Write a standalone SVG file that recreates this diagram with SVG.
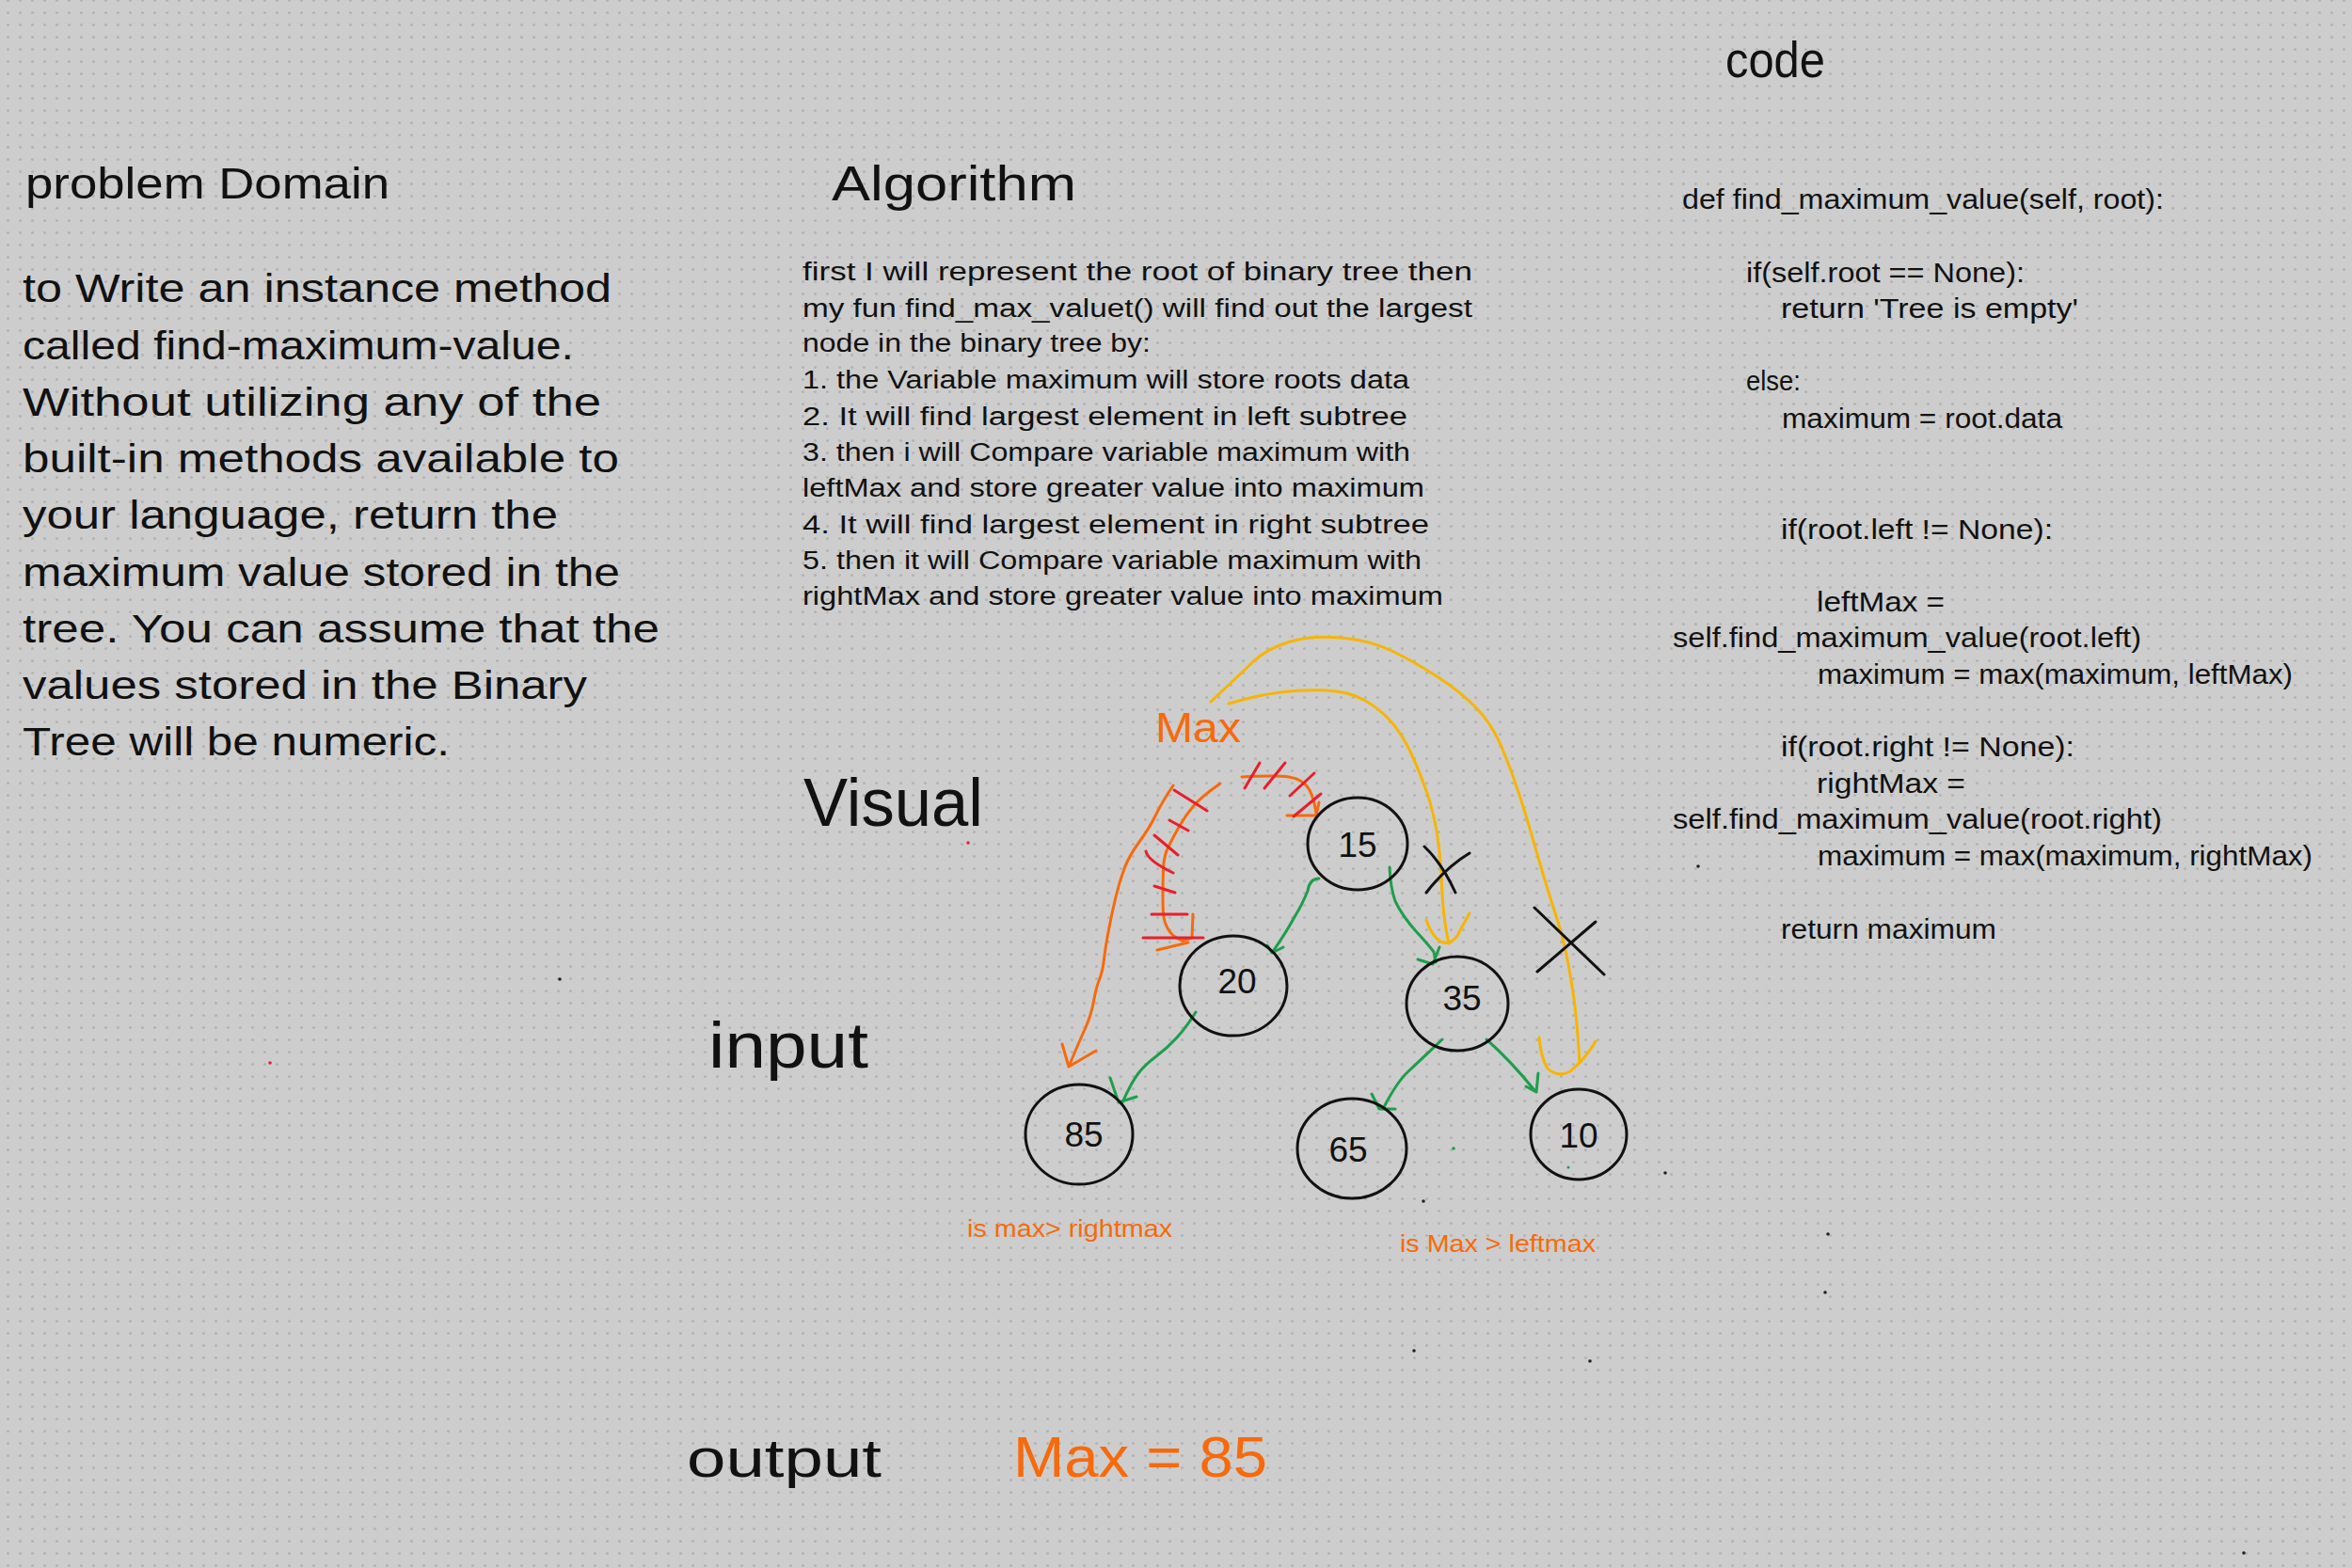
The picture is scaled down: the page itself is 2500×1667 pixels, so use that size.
<svg xmlns="http://www.w3.org/2000/svg" width="2500" height="1667" viewBox="0 0 2500 1667">
<defs>
<pattern id="dots" x="2" y="-6" width="13" height="13" patternUnits="userSpaceOnUse">
<circle cx="6.5" cy="6.5" r="1.6" fill="#b4b4b4"/>
</pattern>
<style>
text{font-family:"Liberation Sans","DejaVu Sans",sans-serif;fill:#111;}
.h{font-size:46px;}
.pd{font-size:42px;}
.al{font-size:27px;}
.cd{font-size:29px;}
.or{fill:#f76a0c;}
.num{font-size:37px;text-anchor:middle;}
.node{fill:none;stroke:#111;stroke-width:3;}
.g{fill:none;stroke:#1e9e4b;stroke-width:3;stroke-linecap:round;stroke-linejoin:round;}
.o{fill:none;stroke:#f76a0c;stroke-width:3;stroke-linecap:round;stroke-linejoin:round;}
.r{fill:none;stroke:#e81f2d;stroke-width:3;stroke-linecap:round;}
.y{fill:none;stroke:#f7b500;stroke-width:3;stroke-linecap:round;stroke-linejoin:round;}
.x{fill:none;stroke:#111;stroke-width:3;stroke-linecap:round;}
</style>
</defs>
<rect width="2500" height="1667" fill="#cdcdcd"/>
<rect width="2500" height="1667" fill="url(#dots)"/>

<g id="problem-domain">
<text class="h" x="27" y="211" textLength="387" lengthAdjust="spacingAndGlyphs">problem Domain</text>
<text class="pd" x="24" y="321" textLength="626" lengthAdjust="spacingAndGlyphs">to Write an instance method</text>
<text class="pd" x="24" y="382" textLength="586" lengthAdjust="spacingAndGlyphs">called find-maximum-value.</text>
<text class="pd" x="24" y="442" textLength="615" lengthAdjust="spacingAndGlyphs">Without utilizing any of the</text>
<text class="pd" x="24" y="502" textLength="634" lengthAdjust="spacingAndGlyphs">built-in methods available to</text>
<text class="pd" x="24" y="562" textLength="569" lengthAdjust="spacingAndGlyphs">your language, return the</text>
<text class="pd" x="24" y="623" textLength="635" lengthAdjust="spacingAndGlyphs">maximum value stored in the</text>
<text class="pd" x="24" y="683" textLength="677" lengthAdjust="spacingAndGlyphs">tree. You can assume that the</text>
<text class="pd" x="24" y="743" textLength="600" lengthAdjust="spacingAndGlyphs">values stored in the Binary</text>
<text class="pd" x="24" y="803" textLength="454" lengthAdjust="spacingAndGlyphs">Tree will be numeric.</text>
</g>

<g id="algorithm">
<text x="884" y="213" font-size="52" textLength="260" lengthAdjust="spacingAndGlyphs">Algorithm</text>
<text class="al" x="853" y="298" textLength="712" lengthAdjust="spacingAndGlyphs">first I will represent the root of binary tree then</text>
<text class="al" x="853" y="337" textLength="712" lengthAdjust="spacingAndGlyphs">my fun find_max_valuet() will find out the largest</text>
<text class="al" x="853" y="374" textLength="370" lengthAdjust="spacingAndGlyphs">node in the binary tree by:</text>
<text class="al" x="853" y="413" textLength="645" lengthAdjust="spacingAndGlyphs">1. the Variable maximum will store roots data</text>
<text class="al" x="853" y="452" textLength="643" lengthAdjust="spacingAndGlyphs">2. It will find largest element in left subtree</text>
<text class="al" x="853" y="490" textLength="646" lengthAdjust="spacingAndGlyphs">3. then i will Compare variable maximum with</text>
<text class="al" x="853" y="528" textLength="661" lengthAdjust="spacingAndGlyphs">leftMax and store greater value into maximum</text>
<text class="al" x="853" y="567" textLength="666" lengthAdjust="spacingAndGlyphs">4. It will find largest element in right subtree</text>
<text class="al" x="853" y="605" textLength="658" lengthAdjust="spacingAndGlyphs">5. then it will Compare variable maximum with</text>
<text class="al" x="853" y="643" textLength="681" lengthAdjust="spacingAndGlyphs">rightMax and store greater value into maximum</text>
</g>

<g id="code">
<text x="1834" y="82" font-size="54" textLength="106" lengthAdjust="spacingAndGlyphs">code</text>
<text class="cd" x="1788" y="222" textLength="512" lengthAdjust="spacingAndGlyphs">def find_maximum_value(self, root):</text>
<text class="cd" x="1856" y="300" textLength="296" lengthAdjust="spacingAndGlyphs">if(self.root == None):</text>
<text class="cd" x="1893" y="338" textLength="316" lengthAdjust="spacingAndGlyphs">return 'Tree is empty'</text>
<text class="cd" x="1856" y="415" textLength="58" lengthAdjust="spacingAndGlyphs">else:</text>
<text class="cd" x="1894" y="455" textLength="298" lengthAdjust="spacingAndGlyphs">maximum = root.data</text>
<text class="cd" x="1893" y="573" textLength="289" lengthAdjust="spacingAndGlyphs">if(root.left != None):</text>
<text class="cd" x="1931" y="650" textLength="136" lengthAdjust="spacingAndGlyphs">leftMax =</text>
<text class="cd" x="1778" y="688" textLength="498" lengthAdjust="spacingAndGlyphs">self.find_maximum_value(root.left)</text>
<text class="cd" x="1932" y="727" textLength="505" lengthAdjust="spacingAndGlyphs">maximum = max(maximum, leftMax)</text>
<text class="cd" x="1893" y="804" textLength="312" lengthAdjust="spacingAndGlyphs">if(root.right != None):</text>
<text class="cd" x="1931" y="843" textLength="158" lengthAdjust="spacingAndGlyphs">rightMax =</text>
<text class="cd" x="1778" y="881" textLength="520" lengthAdjust="spacingAndGlyphs">self.find_maximum_value(root.right)</text>
<text class="cd" x="1932" y="920" textLength="526" lengthAdjust="spacingAndGlyphs">maximum = max(maximum, rightMax)</text>
<text class="cd" x="1893" y="998" textLength="229" lengthAdjust="spacingAndGlyphs">return maximum</text>
</g>

<g id="labels">
<text x="854" y="878" font-size="72" textLength="191" lengthAdjust="spacingAndGlyphs">Visual</text>
<text x="753" y="1135" font-size="68" textLength="170" lengthAdjust="spacingAndGlyphs">input</text>
<text x="730" y="1570" font-size="58" textLength="207" lengthAdjust="spacingAndGlyphs">output</text>
<text class="or" x="1077" y="1570" font-size="62" textLength="270" lengthAdjust="spacingAndGlyphs">Max = 85</text>
<text class="or" x="1228" y="789" font-size="45" textLength="91" lengthAdjust="spacingAndGlyphs">Max</text>
<text class="or" x="1028" y="1315" font-size="25" textLength="218" lengthAdjust="spacingAndGlyphs">is max&gt; rightmax</text>
<text class="or" x="1488" y="1331" font-size="25" textLength="208" lengthAdjust="spacingAndGlyphs">is Max &gt; leftmax</text>
</g>

<g id="connectors">
<!-- green tree edges -->
<path class="g" d="M1402,934 Q1392,934 1390,947 Q1384,962 1377,973 Q1368,990 1352,1013 M1347,1005 L1352,1013 L1364,1007"/>
<path class="g" d="M1477,922 Q1478,944 1483,958 Q1490,973 1505,990 Q1518,1004 1524,1012 L1526,1023 M1507,1020 L1523,1025 L1530,1007"/>
<path class="g" d="M1271,1076 Q1261,1092 1251,1103 Q1241,1114 1229,1123 Q1217,1132 1210,1141 Q1203,1150 1193,1172 M1180,1146 L1189,1172 L1208,1166"/>
<path class="g" d="M1533,1105 Q1509,1128 1497,1139 Q1485,1150 1471,1177 M1458,1163 L1466,1179 L1483,1179"/>
<path class="g" d="M1580,1105 Q1605,1127 1631,1159 M1622,1155 L1633,1161 L1635,1141"/>
<!-- orange traversal arrows -->
<path class="o" d="M1247,835 Q1235,853 1228.5,866.5 Q1222,880 1211,895 Q1200,910 1195,923.5 Q1190,937 1186,953.5 Q1182,970 1178.5,988.5 Q1175,1007 1173.5,1020 Q1172,1033 1168.5,1041.5 Q1165,1050 1162.5,1064.5 Q1160,1079 1153,1094.5 Q1146,1110 1136,1134 M1129,1110 L1136,1134 L1165,1117"/>
<path class="o" d="M1297,833 Q1277,847 1268.5,857 Q1260,867 1253.5,878.5 Q1247,890 1242,900 Q1237,910 1236.5,923.5 Q1236,937 1236,950 Q1236,963 1236.5,971.5 Q1237,980 1242,988.5 Q1247,997 1257,1000 L1267,997 M1268,972 L1267,997 M1230,1010 L1263,1002"/>
<path class="o" d="M1320,826 Q1356,824 1370,826 Q1385,828 1392,840 Q1397,850 1399,865 M1368,867 L1399,867 L1402,853"/>
<!-- red hatches -->
<path class="r" d="M1248,840 L1283,862 M1243,872 L1263,883 M1227,888 L1252,909 M1218,905 Q1220,915 1247,928 M1227,942 L1249,949 M1224,972 L1262,972 M1215,997 L1279,997"/>
<path class="r" d="M1323,838 L1339,811 M1344,838 L1366,811 M1371,846 L1397,822 M1375,868 L1404,844"/>
<!-- yellow arrows -->
<path class="y" d="M1287,746 Q1318,717 1332,703.5 Q1346,690 1370,682.5 Q1394,675 1425.5,678 Q1457,681 1480.5,692.5 Q1504,704 1528,719.5 Q1552,735 1569,752.5 Q1586,770 1596.5,795 Q1607,820 1615.5,846.5 Q1624,873 1633.5,906.5 Q1643,940 1652.5,969 Q1662,998 1667,1025 Q1672,1052 1674.5,1074 Q1677,1096 1679,1130 M1636,1103 Q1638,1125 1645,1136 Q1656,1146 1669,1139 L1681,1128 M1696,1107 Q1690,1118 1677,1132"/>
<path class="y" d="M1306,748 Q1337,739 1361,736 Q1385,733 1409,734 Q1433,735 1449.5,744 Q1466,753 1478,766.5 Q1490,780 1499.5,800 Q1509,820 1516.5,842 Q1524,864 1527.5,886.5 Q1531,909 1532,931.5 Q1533,954 1534.5,969.5 Q1536,985 1540,1003 M1516,978 Q1522,995 1531,1001 Q1545,1006 1552,989 L1562,971"/>
<!-- crosses -->
<path class="x" d="M1514,900 Q1533,918 1547,949 M1516,949 Q1537,922 1562,907"/>
<path class="x" d="M1631,965 L1705,1036 M1634,1033 L1696,980"/>
</g>

<g id="node-15"><ellipse class="node" cx="1443" cy="897" rx="53" ry="49"/><text class="num" x="1443" y="911">15</text></g>
<g id="node-20"><ellipse class="node" cx="1311" cy="1048" rx="57" ry="53"/><text class="num" x="1315" y="1056">20</text></g>
<g id="node-35"><ellipse class="node" cx="1549" cy="1067" rx="54" ry="50"/><text class="num" x="1554" y="1074">35</text></g>
<g id="node-85"><ellipse class="node" cx="1147" cy="1206" rx="57" ry="53"/><text class="num" x="1152" y="1219">85</text></g>
<g id="node-65"><ellipse class="node" cx="1437" cy="1221" rx="58" ry="53"/><text class="num" x="1433" y="1235">65</text></g>
<g id="node-10"><ellipse class="node" cx="1678" cy="1206" rx="51" ry="48"/><text class="num" x="1678" y="1220">10</text></g>

<g id="specks">
<circle cx="595" cy="1041" r="1.8" fill="#222"/>
<circle cx="287" cy="1130" r="1.8" fill="#e81f2d"/>
<circle cx="1029" cy="896" r="1.8" fill="#e81f2d"/>
<circle cx="1770" cy="1247" r="1.8" fill="#222"/>
<circle cx="1943" cy="1312" r="1.8" fill="#222"/>
<circle cx="1940" cy="1374" r="1.8" fill="#222"/>
<circle cx="1503" cy="1436" r="1.8" fill="#222"/>
<circle cx="1690" cy="1447" r="1.8" fill="#222"/>
<circle cx="1513" cy="1277" r="1.8" fill="#222"/>
<circle cx="1805" cy="921" r="1.8" fill="#222"/>
<circle cx="2385" cy="1651" r="1.8" fill="#222"/>
<circle cx="1545" cy="1221" r="1.8" fill="#1e9e4b"/>
<circle cx="1667" cy="1241" r="1.5" fill="#1e9e4b"/>
</g>
</svg>
